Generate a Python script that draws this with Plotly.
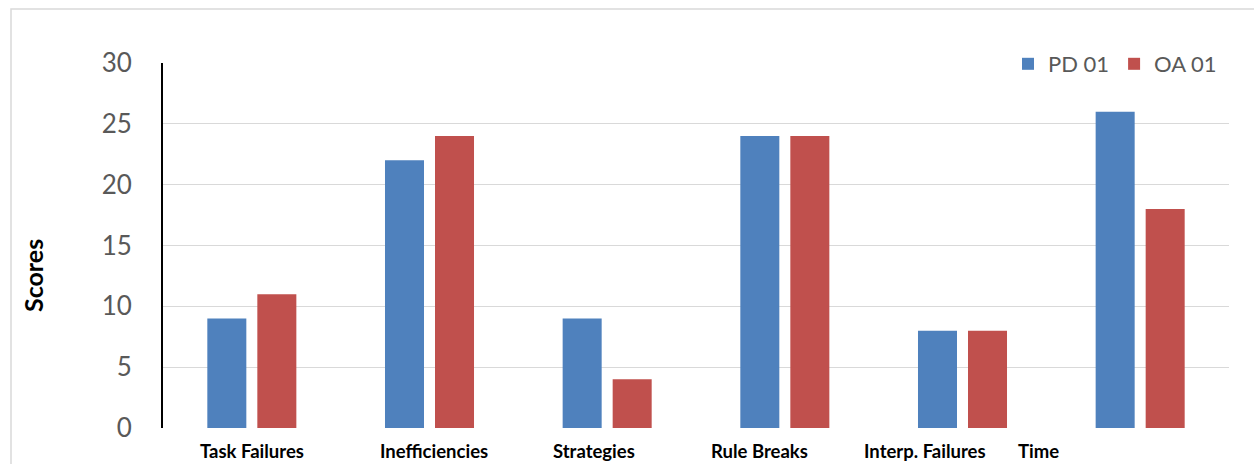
import plotly.graph_objects as go

# Scores per error category for the two participants
categories = ["Task Failures", "Inefficiencies", "Strategies",
              "Rule Breaks", "Interp. Failures", "Time"]
pd01_scores = [9, 22, 9, 24, 8, 26]
oa01_scores = [11, 24, 4, 24, 8, 18]
y_ticks = [0, 5, 10, 15, 20, 25, 30]

W, H = 1254, 464
L, R, T, B = 163, 25, 63, 36
plot_w = W - L - R
plot_h = H - T - B


def px_x(px):
    return (px - L) / plot_w


def px_y(py):
    return (H - B - py) / plot_h


fig = go.Figure()
fig.add_trace(go.Bar(name="PD 01", x=categories, y=pd01_scores,
                     marker=dict(color="#4f81bd", line=dict(width=0))))
fig.add_trace(go.Bar(name="OA 01", x=categories, y=oa01_scores,
                     marker=dict(color="#c0504d", line=dict(width=0))))

# category labels set as a separate text row under the axis
label_centers = [251.7, 434, 594, 759, 925, 1038]
annotations = []
for name, cx in zip(categories, label_centers):
    annotations.append(dict(
        text=name, x=px_x(cx), y=px_y(451), xref="paper", yref="paper",
        xanchor="center", yanchor="middle", showarrow=False,
        font=dict(family="Lato", size=18.5, color="#000000", weight="bold")))

annotations.append(dict(
    text="Scores", x=px_x(33), y=px_y(276), xref="paper", yref="paper",
    xanchor="center", yanchor="middle", showarrow=False, textangle=-90,
    font=dict(family="Lato", size=25, color="#000000", weight="bold")))

# outer chart frame (top and left edges)
frame = dict(
    type="path", xref="paper", yref="paper",
    path=f"M {px_x(11)},{px_y(470)} L {px_x(11)},{px_y(9)} L {px_x(1260)},{px_y(9)}",
    line=dict(color="#d9d9d9", width=1.5), layer="below")

fig.update_layout(
    width=W, height=H,
    margin=dict(l=L, r=R, t=T, b=B, autoexpand=False),
    paper_bgcolor="white", plot_bgcolor="white",
    barmode="group", bargap=0.437, bargroupgap=0.22,
    font=dict(family="Lato", color="#595959"),
    showlegend=True,
    legend=dict(orientation="h", x=px_x(1222), xanchor="right",
                y=px_y(64), yanchor="middle",
                bgcolor="rgba(0,0,0,0)", borderwidth=0,
                font=dict(family="Lato", size=22, color="#595959"),
                traceorder="normal"),
    annotations=annotations,
    shapes=[frame],
)

fig.update_xaxes(showticklabels=False, showgrid=False, showline=False,
                 zeroline=False, ticks="")
fig.update_yaxes(range=[0, 30], tickvals=y_ticks, ticks="",
                 showgrid=True, gridcolor="#d9d9d9", gridwidth=1.3,
                 zeroline=False, showline=True, linecolor="#000000",
                 linewidth=2, ticklabelstandoff=24,
                 tickfont=dict(family="Lato", size=26, color="#595959"))

fig.write_html("out.html")
